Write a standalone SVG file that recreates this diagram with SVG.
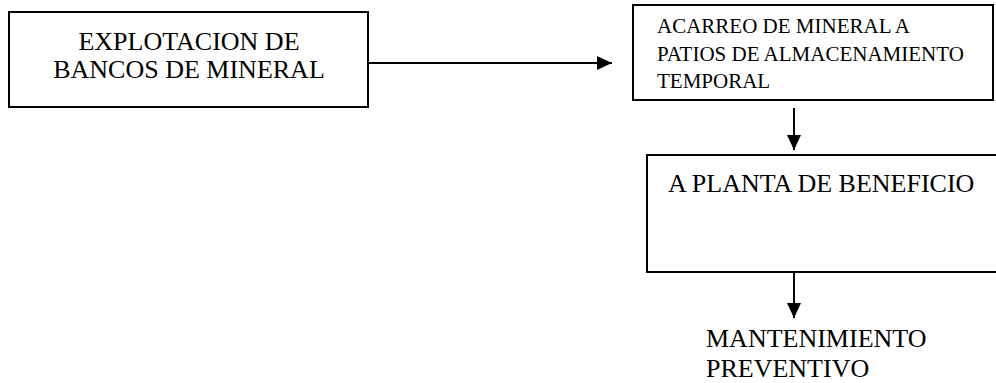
<svg xmlns="http://www.w3.org/2000/svg" width="996" height="383" viewBox="0 0 996 383">
  <defs>
    <style>
      .box { fill: #ffffff; stroke: #000000; stroke-width: 2; }
      .lbl { font-family: "Liberation Serif", "Times New Roman", serif; fill: #000000; }
      .big { font-size: 26px; }
      .small { font-size: 21px; }
      .conn { stroke: #000000; stroke-width: 2; fill: none; marker-end: url(#head); }
    </style>
    <marker id="head" markerUnits="userSpaceOnUse" markerWidth="16" markerHeight="16" refX="15" refY="7" orient="auto">
      <path d="M0,0 L15,7 L0,14 z" fill="#000000"/>
    </marker>
  </defs>
  <rect width="996" height="383" fill="#ffffff"/>

  <g id="explotacion">
    <rect class="box" x="9" y="12" width="359" height="95"/>
    <text class="lbl big" x="189" y="50" text-anchor="middle">EXPLOTACION DE</text>
    <text class="lbl big" x="189" y="78" text-anchor="middle">BANCOS DE MINERAL</text>
  </g>

  <g id="acarreo">
    <rect class="box" x="633" y="5" width="360" height="95"/>
    <text class="lbl small" x="657" y="33">ACARREO DE MINERAL A</text>
    <text class="lbl small" x="657" y="61">PATIOS DE ALMACENAMIENTO</text>
    <text class="lbl small" x="657" y="88">TEMPORAL</text>
  </g>

  <g id="planta">
    <rect class="box" x="647" y="155" width="360" height="117"/>
    <text class="lbl big" x="668" y="192">A PLANTA DE BENEFICIO</text>
  </g>

  <g id="mantenimiento">
    <text class="lbl big" x="706" y="347">MANTENIMIENTO</text>
    <text class="lbl big" x="706" y="377">PREVENTIVO</text>
  </g>

  <g id="connectors">
    <line class="conn" x1="368" y1="63" x2="612" y2="63"/>
    <line class="conn" x1="794" y1="108" x2="794" y2="150"/>
    <line class="conn" x1="794" y1="272" x2="794" y2="318"/>
  </g>
</svg>
